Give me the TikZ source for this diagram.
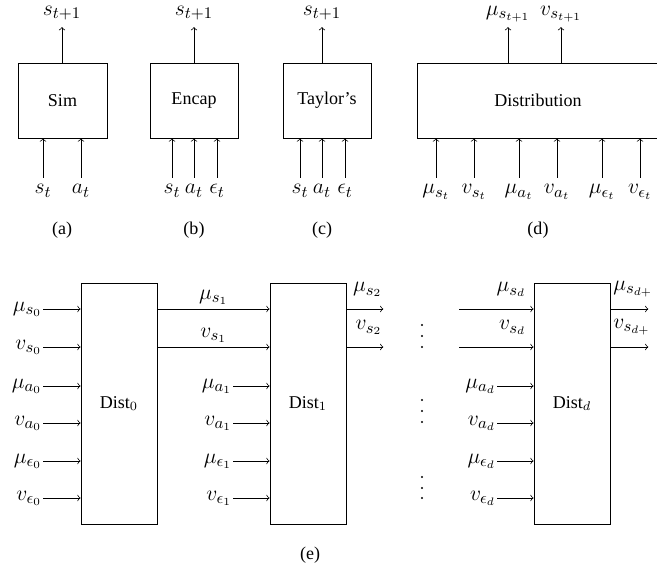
\documentclass[tikz,border=0pt]{standalone}
\usepackage[no-math]{fontspec}
\setmainfont{Liberation Serif}
\usepackage{amsmath}
\usepackage{amssymb}

\begin{document}
\begin{tikzpicture}[x=0.555pt,y=-0.555pt,
        blk/.style={draw, inner sep=0pt},
        mathlab/.style={font=\fontsize{12.5}{15}\selectfont},
        inlab/.style={mathlab, inner sep=3.5pt, anchor=north},
        outlab/.style={mathlab, inner sep=0pt, anchor=base},
        sidelab/.style={mathlab, inner sep=0.5pt, anchor=east},
        toplab/.style={mathlab, inner sep=0.5pt, yshift=6pt}]
    \useasboundingbox (0,0) rectangle (657,569);

    % top row: single step models
    \node[blk, minimum width=49.4pt, minimum height=41.6pt] (sim) at (62.5,100.5) {Sim};
    \node[blk, minimum width=48.8pt, minimum height=41.6pt] (encap) at (194,100.5) {Encap};
    \node[blk, minimum width=48.8pt, minimum height=41.6pt] (taylor) at (327,100.5) {Taylor's};
    \node[blk, minimum width=134.3pt, minimum height=41.6pt] (dist) at (538,100.5) {Distribution};

    \foreach \n/\x/\t in {sim/43/s_t, sim/81/a_t,
            encap/172/s_t, encap/194/a_t, encap/217/\epsilon_t,
            taylor/300/s_t, taylor/322/a_t, taylor/345/\epsilon_t,
            dist/436/\mu_{s_t}, dist/474/v_{s_t}, dist/519/\mu_{a_t},
            dist/557/v_{a_t}, dist/602/\mu_{\epsilon_t}, dist/640/v_{\epsilon_t}} {
        \node[inlab] (inp) at (\x,178) {$\t$};
        \draw[->] (inp.north) -- (inp.north |- \n.south);
    }
    \foreach \n/\x/\t in {sim/62/s_{t+1}, encap/194/s_{t+1}, taylor/322/s_{t+1},
            dist/508/\mu_{s_{t+1}}, dist/561/v_{s_{t+1}}} {
        \node[outlab] (outp) at (\x,15.5) {$\t$};
        \draw[->] (outp.base |- \n.north) -- ([yshift=-6.4pt]outp.base);
    }

    \node at (62,230) {(a)};
    \node at (194,230) {(b)};
    \node at (322,230) {(c)};
    \node at (538,230) {(d)};

    % bottom row: chained distribution steps
    \node[blk, minimum width=42.2pt, minimum height=133.8pt] (d0) at (119,403.5) {Dist$_0$};
    \node[blk, minimum width=42.2pt, minimum height=133.8pt] (d1) at (308,403.5) {Dist$_1$};
    \node[blk, minimum width=42.2pt, minimum height=133.8pt] (dd) at (572,403.5) {Dist$_d$};

    \foreach \y/\t in {309/\mu_{s_0}, 347/v_{s_0}, 386/\mu_{a_0},
            423/v_{a_0}, 461/\mu_{\epsilon_0}, 498/v_{\epsilon_0}} {
        \node[sidelab] (l) at (43,\y) {$\t$};
        \draw[->] (l.east) -- (l.east -| d0.west);
    }
    \foreach \y/\t in {386/\mu_{a_1}, 423/v_{a_1}, 461/\mu_{\epsilon_1}, 498/v_{\epsilon_1}} {
        \node[sidelab] (l) at (233,\y) {$\t$};
        \draw[->] (l.east) -- (l.east -| d1.west);
    }
    \foreach \y/\t in {386/\mu_{a_d}, 423/v_{a_d}, 461/\mu_{\epsilon_d}, 498/v_{\epsilon_d}} {
        \node[sidelab] (l) at (497,\y) {$\t$};
        \draw[->] (l.east) -- (l.east -| dd.west);
    }

    \draw[->] (d0.east |- 0,309) -- (d1.west |- 0,309) node[midway, above, mathlab, inner sep=2.5pt] {$\mu_{s_1}$};
    \draw[->] (d0.east |- 0,347) -- (d1.west |- 0,347) node[midway, above, mathlab, inner sep=2.5pt] {$v_{s_1}$};

    \draw[->] (d1.east |- 0,309) -- ++(37,0) node[pos=1, anchor=south east, toplab] {$\mu_{s_2}$};
    \draw[->] (d1.east |- 0,347) -- ++(37,0) node[pos=1, anchor=south east, toplab] {$v_{s_2}$};

    \draw[<-] (dd.west |- 0,309) -- ++(-75,0) node[pos=0, anchor=south east, toplab, xshift=-3.6pt] {$\mu_{s_d}$};
    \draw[<-] (dd.west |- 0,347) -- ++(-75,0) node[pos=0, anchor=south east, toplab, xshift=-3.6pt] {$v_{s_d}$};

    \draw[->] (dd.east |- 0,309) -- ++(38,0) node[pos=0, anchor=south west, toplab, xshift=1pt] {$\mu_{s_{d+}}$};
    \draw[->] (dd.east |- 0,347) -- ++(38,0) node[pos=0, anchor=south west, toplab, xshift=1pt] {$v_{s_{d+}}$};

    % vertical dots between the chains
    \foreach \y in {325,336,347,400,411,422,477,488,498}
        \fill (422,\y) circle (0.6pt);

    \node at (310,555) {(e)};
\end{tikzpicture}
\end{document}
